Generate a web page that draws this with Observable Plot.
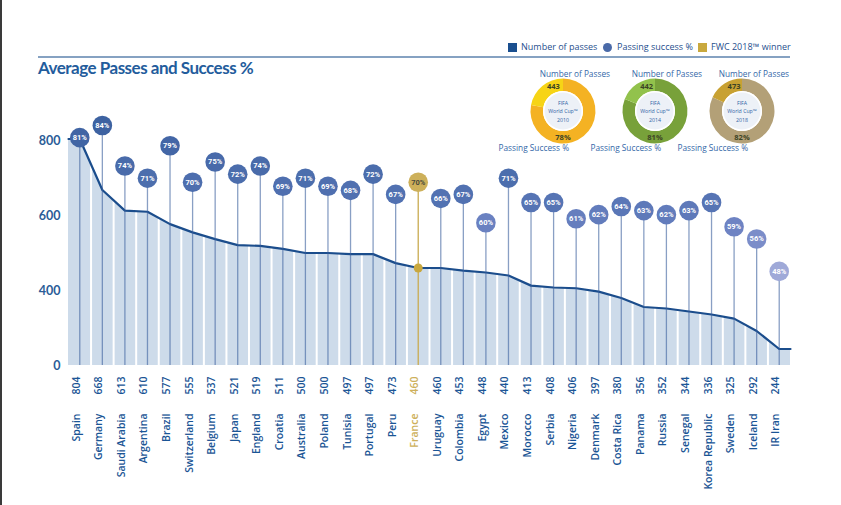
<!DOCTYPE html>
<html><head><meta charset="utf-8">
<script src="https://cdn.jsdelivr.net/npm/d3@7"></script>
<script src="https://cdn.jsdelivr.net/npm/@observablehq/plot@0.6"></script>
<style>
body{margin:0;background:#fff;font-family:"Open Sans",sans-serif;}
#wrap{position:relative;width:841px;height:505px;overflow:hidden;background:#fff;}
#chart{position:absolute;left:0;top:0;}
.abs{position:absolute;white-space:nowrap;}
.lg{position:absolute;top:41px;font-size:9px;line-height:12px;color:#1f4f8e;font-family:"Open Sans",sans-serif;}
</style></head><body><div id="wrap">
<div id="chart"></div>
<div class="abs" style="left:0;top:0;width:2px;height:505px;background:#3a3a3a"></div>
<div class="abs" style="left:38px;top:56px;width:752px;height:2px;background:#86a2c2"></div>
<div class="abs" style="left:38px;top:58px;font-family:Lato,sans-serif;font-weight:700;font-size:17px;line-height:20px;color:#235c9c;letter-spacing:-0.5px">Average Passes and Success %</div>
<div class="abs" style="left:508px;top:43px;width:9px;height:9px;background:#1a4f8f"></div>
<div class="lg" style="left:521px">Number of passes</div>
<div class="abs" style="left:603px;top:43px;width:9px;height:9px;border-radius:50%;background:#4a6aa8"></div>
<div class="lg" style="left:617px">Passing success %</div>
<div class="abs" style="left:698px;top:43px;width:9px;height:9px;background:#c9a93e"></div>
<div class="lg" style="left:711px">FWC 2018™ winner</div>
</div>
<script>
const countries = ["Spain","Germany","Saudi Arabia","Argentina","Brazil","Switzerland","Belgium","Japan","England","Croatia","Australia","Poland","Tunisia","Portugal","Peru","France","Uruguay","Colombia","Egypt","Mexico","Morocco","Serbia","Nigeria","Denmark","Costa Rica","Panama","Russia","Senegal","Korea Republic","Sweden","Iceland","IR Iran"];
const passes = [804,668,613,610,577,555,537,521,519,511,500,500,497,497,473,460,460,453,448,440,413,408,406,397,380,356,352,344,336,325,292,244];
const success = [81,84,74,71,79,70,75,72,74,69,71,69,68,72,67,70,66,67,60,71,65,65,61,62,64,63,62,63,65,59,56,48];
const winner = "France";
// the axis is broken: its visible bottom (labelled 0) sits where 200 passes would be
const axisBase = 200;
const yTicks = [axisBase, 400, 600, 800];
const yTickLabels = ["0", "400", "600", "800"];
const donutYears = ["2010", "2014", "2018"];
const donutPasses = [443, 442, 473];
const donutSuccess = [78, 81, 82];
const donutMain = ["#f4b223", "#78a13a", "#b3a077"];
const donutLight = ["#f6d416", "#92c24c", "#c8a132"];

const data = countries.map((c, i) => ({i, country: c, passes: passes[i], success: success[i], win: c === winner}));
const n = data.length;
const linePts = [{i: -0.5, v: passes[0]}, ...data.map(d => ({i: d.i, v: d.passes})), {i: n - 0.5, v: passes[n - 1]}];
// percentage -> position on the passes axis, for the bubbles
const pctY = d3.scaleLinear().domain([48, 84]).range([451, 840]);
const bubbleFill = d3.scaleLinear().domain([48, 59, 66, 84]).range(["#9fa9d8", "#6e83c3", "#5272b2", "#3d62a1"]).clamp(true);
const gold = "#cdb05a";
const blue = "#1a5595";

const donutCX = [563, 655, 742];
function donuts() {
  const g = d3.create("svg:g").attr("font-family", "'Open Sans', sans-serif");
  const arc = d3.arc().innerRadius(20).outerRadius(32.5);
  donutYears.forEach((yr, k) => {
    const cx = donutCX[k], cy = 111;
    const share = (100 - donutSuccess[k]) / 100;
    const gg = g.append("g").attr("transform", `translate(${cx},${cy})`);
    gg.append("path").attr("d", arc({startAngle: 0, endAngle: (1 - share) * 2 * Math.PI})).attr("fill", donutMain[k]);
    gg.append("path").attr("d", arc({startAngle: -share * 2 * Math.PI, endAngle: 0})).attr("fill", donutLight[k]);
    gg.append("circle").attr("r", 20).attr("fill", "white");
    gg.append("circle").attr("r", 18.5).attr("fill", "#edf1f7");
    const inner = ["FIFA", "World Cup™", yr];
    inner.forEach((t, j) => gg.append("text").attr("x", 0).attr("y", -8 + j * 8.5).attr("text-anchor", "middle")
      .attr("font-size", 5.2).attr("fill", "#2f62a4").attr("dy", "0.35em").text(t));
    const a = -share * Math.PI * 0.55;
    gg.append("text").attr("x", 26 * Math.sin(a)).attr("y", -26 * Math.cos(a)).attr("dy", "0.35em")
      .attr("text-anchor", "middle").attr("font-size", 7.5).attr("font-weight", 700).attr("fill", "#3d4426").text(donutPasses[k]);
    gg.append("text").attr("x", 0).attr("y", 26).attr("dy", "0.35em")
      .attr("text-anchor", "middle").attr("font-size", 7.5).attr("font-weight", 700).attr("fill", "#3d4426").text(donutSuccess[k] + "%");
    g.append("text").attr("x", cx + 47).attr("y", 77).attr("text-anchor", "end").attr("font-size", 8.3).attr("fill", "#3467a8").text("Number of Passes");
    g.append("text").attr("x", cx + 6).attr("y", 151).attr("text-anchor", "end").attr("font-size", 8.3).attr("fill", "#3467a8").text("Passing Success %");
  });
  return g.node();
}

const chart = Plot.plot({
  width: 841, height: 505,
  marginLeft: 68, marginRight: 51, marginTop: 140, marginBottom: 140,
  style: {background: "transparent", fontFamily: "'Open Sans', sans-serif", overflow: "visible"},
  x: {domain: [-0.5, n - 0.5], axis: null},
  y: {domain: [axisBase, 800], axis: null},
  marks: [
    Plot.areaY(linePts, {x: "i", y1: axisBase, y2: "v", fill: "#cddbea"}),
    Plot.ruleX(d3.range(n - 1), {x: d => d + 0.5, y1: axisBase, y2: 820, stroke: "white", strokeWidth: 2}),
    Plot.line(linePts, {x: "i", y: "v", stroke: "#1b4d8c", strokeWidth: 2.2}),
    Plot.ruleX(data, {x: "i", y1: axisBase, y2: d => pctY(d.success), stroke: d => d.win ? "#c9ab50" : "#3b5f9c", strokeOpacity: d => d.win ? 1 : 0.6, strokeWidth: 1.3}),
    Plot.dot(data.filter(d => d.win), {x: "i", y: "passes", r: 4.5, fill: "#c9a83e"}),
    Plot.dot(data, {x: "i", y: d => pctY(d.success), r: 9.8, fill: d => d.win ? gold : bubbleFill(d.success)}),
    Plot.text(data, {x: "i", y: d => pctY(d.success), text: d => d.success + "%", fill: d => d.win ? "#4a4a3c" : "white", fontSize: 7.5, fontWeight: 700, fontFamily: "Roboto, sans-serif"}),
    Plot.axisY(yTicks, {anchor: "left", tickSize: 0, tickPadding: 8, tickFormat: (d, i) => yTickLabels[yTicks.indexOf(d)], fontSize: 12.5, fontWeight: 700, fontFamily: "Lato, sans-serif", color: "#2b5c97", label: null}),
    Plot.text(data, {x: "i", text: d => String(d.passes), frameAnchor: "bottom", dy: 11, rotate: -90, textAnchor: "end", fontSize: 10.5, fontWeight: 600, fill: d => d.win ? gold : blue}),
    Plot.text(data, {x: "i", text: "country", frameAnchor: "bottom", dy: 48, rotate: -90, textAnchor: "end", fontSize: 10.5, fontWeight: 600, fill: d => d.win ? gold : blue}),
    donuts
  ]
});
document.getElementById("chart").appendChild(chart);
</script>
</body></html>
